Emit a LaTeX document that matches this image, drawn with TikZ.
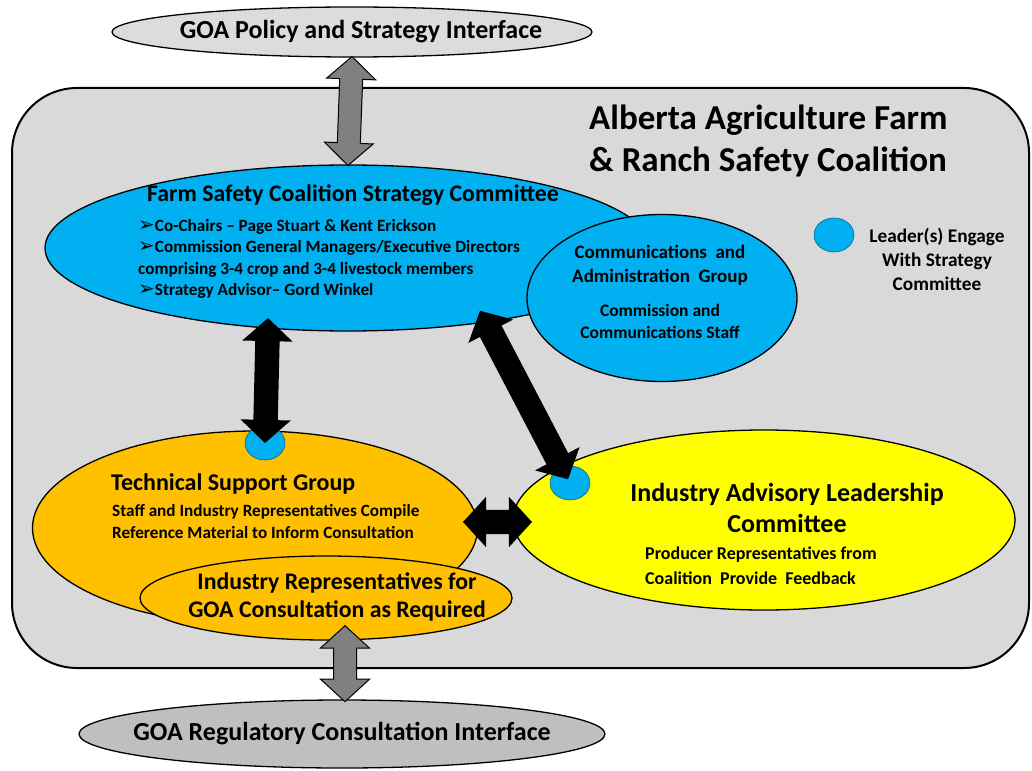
\documentclass[tikz,border=0pt]{standalone}
\usepackage{fontspec}
\setmainfont{Carlito}
\newfontfamily\dingfont{DejaVu Sans}
\usetikzlibrary{shapes.geometric,shapes.arrows,positioning}
\definecolor{panelgray}{HTML}{D9D9D9}
\definecolor{policygray}{HTML}{DCDCDC}
\definecolor{reggray}{HTML}{BFBFBF}
\definecolor{arrowgray}{HTML}{808080}
\definecolor{skyblue}{HTML}{00B0F0}
\definecolor{amber}{HTML}{FFC000}
\definecolor{lemon}{HTML}{FFFF00}
\newcommand{\fsz}[2]{\bfseries\fontsize{#1}{#2}\selectfont}
\newcommand{\bul}{{\dingfont\fontsize{20}{21}\selectfont\char"27A2}}
\tikzset{
	oval/.style={ellipse, draw=black, line width=1.3pt, inner sep=0pt},
	leaderdot/.style={ellipse, fill=skyblue, draw=skyblue!60!black, line width=0.6pt, minimum width=40pt, minimum height=34pt, inner sep=0pt},
	bigarrow/.style={double arrow, inner xsep=0pt, inner ysep=11pt, double arrow head extend=13pt, double arrow tip angle=95},
	label text/.style={align=center, inner sep=0pt}
}
\begin{document}
\begin{tikzpicture}[x=1pt, y=-1pt, font=\bfseries]
	\useasboundingbox (0,0) rectangle (1032,770);
	\draw[line width=2pt, fill=panelgray, rounded corners=65pt] (12,88) rectangle (1029,668);
	
	\node[oval, fill=policygray, minimum width=480pt, minimum height=50pt] (policy) at (352,32) {};
	\node[label text, font=\fsz{26}{30}] (policytext) at (361,32) {GOA Policy and Strategy Interface};
	\node[oval, fill=reggray, minimum width=526pt, minimum height=68pt] (regulatory) at (342,734) {};
	\node[label text, font=\fsz{26}{30}] (regulatorytext) at (regulatory) {GOA Regulatory Consultation Interface};
	
	\node[label text, anchor=west, align=left, font=\fsz{35}{42}] (coalition) at (589,141) {Alberta Agriculture Farm\\ \& Ranch Safety Coalition};
	
	% strategy committee
	\node[oval, fill=skyblue, minimum width=606pt, minimum height=166pt] (strategy) at (348,248) {};
	\node[label text, font=\fsz{23.8}{28}] (strategytitle) at (353,195) {Farm Safety Coalition Strategy Committee};
	\node[label text, anchor=west, align=left, font=\fsz{17.2}{21.3}] (strategylist) at (138,259) {\bul Co-Chairs -- Page Stuart \& Kent Erickson\\ \bul Commission General Managers/Executive Directors\\ comprising 3-4 crop and 3-4 livestock members\\ \bul Strategy Advisor-- Gord Winkel};
	
	\node[oval, fill=skyblue, minimum width=270pt, minimum height=167pt] (comms) at (662,298) {};
	\node[label text, font=\fsz{19}{24}] (commstitle) at (660,265) {Communications\ \ and\\ Administration\ \ Group};
	\node[label text, font=\fsz{17.5}{22}] (commsstaff) at (660,321) {Commission and\\ Communications Staff};
	
	% legend
	\node[leaderdot] (legenddot) at (834,235) {};
	\node[label text, font=\fsz{19.3}{24}] (legendtext) at (937,259) {Leader(s) Engage\\ With Strategy\\ Committee};
	
	% technical support
	\node[oval, fill=amber, minimum width=445pt, minimum height=194pt] (technical) at (255,528) {};
	\node[leaderdot] (technicaldot) at (265,443) {};
	\node[label text, anchor=west, font=\fsz{24}{28}] (technicaltitle) at (111,484) {Technical Support Group};
	\node[label text, anchor=west, align=left, font=\fsz{17.2}{22}] (technicalnote) at (112,522) {Staff and Industry Representatives Compile\\ Reference Material to Inform Consultation};
	
	\node[oval, fill=amber, minimum width=372pt, minimum height=84pt] (reps) at (326,598) {};
	\node[label text, font=\fsz{23.8}{28}] (repstext) at (337,597) {Industry Representatives for\\ GOA Consultation as Required};
	
	% industry advisory
	\node[oval, fill=lemon, minimum width=502pt, minimum height=180pt] (advisory) at (764,520) {};
	\node[leaderdot] (advisorydot) at (570,483) {};
	\node[label text, font=\fsz{26}{31}] (advisorytitle) at (787,508) {Industry Advisory Leadership\\ Committee};
	\node[label text, anchor=west, align=left, font=\fsz{18}{25}] (advisorynote) at (645,566) {Producer Representatives from\\ Coalition\ \ Provide\ \ Feedback};
	
	% connectors
	\coordinate (repsport) at (345,628);
	\coordinate (strategyport) at (268,318);
	\coordinate (strategycorner) at (478,307);
	\coordinate (technicalport) at (463,522);
	\coordinate (advisoryport) at (532,522);
	
	\path (policy.south) -- (strategy.north) node[midway, sloped, bigarrow, fill=arrowgray, draw=black, line width=1pt, minimum height=109pt] (policylink) {};
	\path (repsport) -- (regulatory.north -| repsport) node[midway, sloped, bigarrow, fill=arrowgray, draw=black, line width=1pt, minimum height=76pt] (regulatorylink) {};
	\path (strategyport) -- (technicaldot.center) node[midway, sloped, bigarrow, fill=black, inner ysep=12pt, minimum height=125pt] (technicallink) {};
	\path (strategycorner) -- (advisorydot.center) node[midway, sloped, bigarrow, fill=black, inner ysep=12pt, minimum height=190pt] (advisorylink) {};
	\path (technicalport) -- (advisoryport) node[midway, sloped, bigarrow, fill=black, inner ysep=12pt, minimum height=69pt] (peerlink) {};
\end{tikzpicture}
\end{document}
